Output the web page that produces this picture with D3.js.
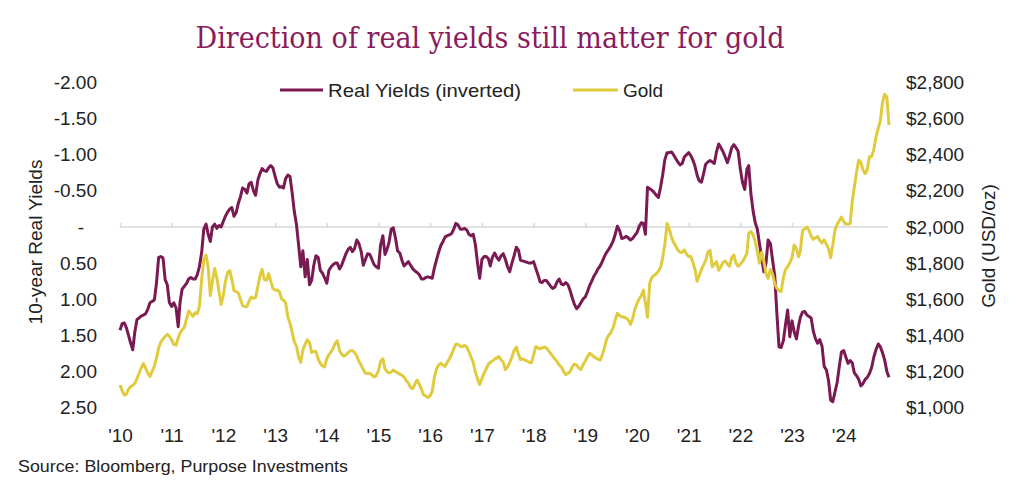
<!DOCTYPE html>
<html>
<head>
<meta charset="utf-8">
<script src="https://cdn.jsdelivr.net/npm/d3@7"></script>
<style>
  html, body { margin: 0; padding: 0; background: #fff; }
  svg { display: block; }
  text { font-family: "Liberation Sans", Arial, sans-serif; }
</style>
</head>
<body>
<svg id="chart" width="1024" height="500"></svg>
<script>
// ---- data: twice a month (1st and 16th), Jan 2010 - Nov 2024 ----
const startYear = 2010;
const realYields = [
  1.43,1.34,1.33,1.40,1.49,1.60,1.70,1.45,1.28,1.26,1.23,1.22,1.20,1.14,1.05,1.03,1.01,0.77,0.42,0.41,0.43,0.73,0.80,1.05,
  1.10,1.05,1.12,1.38,1.05,0.86,0.82,0.78,0.72,0.70,0.72,0.72,0.66,0.55,0.35,0.03,-0.04,0.10,0.20,0.00,-0.04,0.02,-0.02,0.00,
  -0.08,-0.15,-0.21,-0.25,-0.27,-0.15,-0.20,-0.33,-0.42,-0.54,-0.52,-0.47,-0.60,-0.62,-0.50,-0.44,-0.65,-0.74,-0.81,-0.78,-0.77,-0.82,-0.85,-0.82,
  -0.70,-0.60,-0.55,-0.56,-0.54,-0.67,-0.72,-0.70,-0.48,-0.22,-0.03,0.25,0.55,0.33,0.69,0.45,0.80,0.74,0.53,0.40,0.42,0.60,0.64,0.70,
  0.78,0.60,0.55,0.52,0.50,0.50,0.58,0.53,0.45,0.37,0.31,0.28,0.34,0.30,0.18,0.23,0.34,0.53,0.45,0.37,0.38,0.45,0.52,0.55,
  0.57,0.25,0.12,0.38,0.32,0.22,0.03,0.01,0.15,0.33,0.36,0.46,0.54,0.51,0.48,0.53,0.58,0.61,0.63,0.66,0.72,0.72,0.70,0.69,
  0.70,0.71,0.56,0.45,0.35,0.26,0.20,0.14,0.12,0.11,0.09,0.03,-0.05,-0.03,0.03,0.03,0.02,0.04,0.10,0.12,0.10,0.25,0.50,0.71,
  0.45,0.41,0.41,0.44,0.54,0.42,0.36,0.42,0.46,0.40,0.37,0.45,0.55,0.62,0.50,0.40,0.28,0.32,0.46,0.47,0.48,0.49,0.50,0.50,
  0.48,0.57,0.66,0.76,0.77,0.74,0.74,0.78,0.82,0.85,0.83,0.76,0.72,0.79,0.80,0.77,0.80,0.88,0.98,1.07,1.13,1.10,1.05,1.00,
  0.97,0.90,0.81,0.75,0.69,0.64,0.58,0.54,0.48,0.41,0.35,0.31,0.26,0.20,0.10,-0.01,0.05,0.16,0.15,0.13,0.15,0.18,0.16,0.12,
  0.08,0.00,-0.06,-0.05,0.10,-0.55,-0.53,-0.51,-0.48,-0.44,-0.41,-0.55,-0.72,-0.93,-1.03,-1.03,-1.04,-1.00,-0.95,-0.90,-0.86,-0.88,-0.97,-1.00,
  -1.03,-0.99,-0.92,-0.83,-0.72,-0.64,-0.62,-0.74,-0.87,-0.90,-0.92,-0.90,-0.88,-1.04,-1.15,-1.10,-1.04,-0.97,-0.89,-0.98,-1.10,-1.14,-1.10,-1.05,
  -0.80,-0.62,-0.52,-0.80,-0.85,-0.47,-0.22,-0.06,0.03,0.23,0.43,0.62,0.50,0.18,0.23,0.45,0.68,1.20,1.66,1.67,1.57,1.35,1.15,1.52,
  1.30,1.45,1.55,1.37,1.25,1.18,1.17,1.22,1.24,1.26,1.45,1.55,1.61,1.56,1.65,1.93,1.98,2.13,2.40,2.42,2.28,2.15,1.93,1.73,
  1.71,1.80,1.89,1.85,1.88,2.02,2.06,2.11,2.20,2.17,2.11,2.08,2.03,1.95,1.80,1.70,1.62,1.66,1.74,1.84,2.00,2.08
];
const gold = [
  1125,1095,1068,1075,1100,1115,1122,1134,1160,1190,1220,1243,1218,1190,1172,1200,1230,1275,1330,1362,1380,1393,1405,1395,
  1374,1350,1345,1385,1412,1430,1445,1490,1535,1520,1505,1525,1520,1560,1710,1820,1845,1775,1620,1700,1770,1720,1645,1570,
  1620,1700,1748,1758,1710,1648,1642,1634,1600,1565,1558,1560,1590,1612,1605,1610,1670,1730,1765,1710,1705,1742,1700,1660,
  1650,1651,1640,1600,1596,1580,1500,1468,1420,1365,1340,1280,1250,1320,1350,1375,1360,1305,1310,1310,1270,1245,1230,1225,
  1270,1292,1310,1330,1355,1370,1315,1295,1285,1290,1305,1315,1315,1305,1285,1255,1235,1210,1189,1190,1190,1180,1170,1175,
  1205,1255,1270,1215,1200,1192,1195,1208,1200,1192,1185,1178,1168,1150,1135,1110,1105,1130,1152,1130,1100,1070,1065,1055,
  1065,1090,1170,1215,1235,1245,1235,1228,1250,1270,1295,1325,1350,1350,1340,1337,1345,1335,1310,1280,1250,1195,1160,1128,
  1160,1190,1215,1240,1250,1258,1268,1275,1282,1265,1250,1210,1225,1248,1280,1315,1335,1295,1265,1270,1262,1258,1250,1247,
  1290,1337,1330,1325,1330,1335,1330,1315,1300,1285,1268,1255,1235,1225,1200,1182,1190,1198,1225,1240,1235,1220,1210,1235,
  1258,1280,1300,1292,1282,1275,1268,1263,1290,1330,1380,1400,1415,1440,1485,1522,1510,1503,1500,1496,1485,1460,1490,1540,
  1575,1600,1620,1650,1580,1500,1690,1720,1732,1740,1755,1775,1830,1900,2020,1990,1945,1915,1895,1873,1860,1860,1873,1850,
  1836,1836,1800,1760,1700,1730,1765,1790,1815,1860,1870,1780,1795,1808,1760,1780,1805,1812,1795,1782,1830,1845,1800,1782,
  1795,1808,1830,1854,1965,1975,1955,1920,1860,1800,1860,1810,1740,1715,1765,1740,1685,1660,1648,1642,1720,1765,1780,1800,
  1830,1900,1880,1835,1870,1980,1990,2000,1980,1950,1932,1940,1947,1925,1912,1928,1905,1880,1830,1900,1985,2015,2035,2055,
  2030,2018,2015,2020,2140,2220,2305,2370,2360,2316,2295,2320,2389,2390,2430,2500,2545,2590,2690,2735,2720,2565
];
const yieldTicks = [-2, -1.5, -1, -0.5, 0, 0.5, 1, 1.5, 2, 2.5];
const goldTicks = [1000, 1200, 1400, 1600, 1800, 2000, 2200, 2400, 2600, 2800];
const yearLabels = ["'10","'11","'12","'13","'14","'15","'16","'17","'18","'19","'20","'21","'22","'23","'24"];

const titleText = "Direction of real yields still matter for gold";
const sourceText = "Source: Bloomberg, Purpose Investments";

// ---- chart ----
const svg = d3.select("#chart");
const dates = realYields.map((v, i) => new Date(Date.UTC(startYear, Math.floor(i / 2), i % 2 ? 16 : 1)));
const years = yearLabels.map((l, i) => new Date(Date.UTC(startYear + i, 0, 1)));

const x = d3.scaleUtc()
  .domain([new Date(Date.UTC(2010, 0, 1)), new Date(Date.UTC(2025, 0, 1))])
  .range([120, 895.5]);
const yL = d3.scaleLinear().domain([-2, 2.5]).range([82.6, 407.5]);
const yR = d3.scaleLinear().domain([2800, 1000]).range([82.6, 407.5]);

const purple = "#7a1a53";
const yellow = "#e0cb3f";

// title
svg.append("text")
  .attr("x", 490).attr("y", 48)
  .attr("text-anchor", "middle")
  .attr("textLength", 589).attr("lengthAdjust", "spacingAndGlyphs")
  .style("font-family", "'DejaVu Serif', 'Liberation Serif', Georgia, serif")
  .style("font-size", "30px")
  .attr("fill", "#8a1c5e")
  .text(titleText);

// legend
const leg = svg.append("g");
leg.append("line").attr("x1", 280).attr("x2", 323).attr("y1", 90).attr("y2", 90)
  .attr("stroke", purple).attr("stroke-width", 3);
leg.append("text").attr("x", 328).attr("y", 97).style("font-size", "19px").attr("fill", "#222")
  .attr("textLength", 193).attr("lengthAdjust", "spacingAndGlyphs")
  .text("Real Yields (inverted)");
leg.append("line").attr("x1", 573).attr("x2", 618).attr("y1", 90).attr("y2", 90)
  .attr("stroke", yellow).attr("stroke-width", 3);
leg.append("text").attr("x", 623).attr("y", 97).style("font-size", "19px").attr("fill", "#222")
  .text("Gold");

// zero line + year ticks
const y0 = yL(0);
svg.append("line").attr("x1", 120).attr("x2", 888).attr("y1", y0).attr("y2", y0)
  .attr("stroke", "#d9d9d9").attr("stroke-width", 1.5);
const tickAxis = svg.append("g").attr("transform", `translate(0,${y0})`)
  .call(d3.axisTop(x).tickValues(years).tickSize(4).tickFormat(""));
tickAxis.select(".domain").remove();
tickAxis.selectAll("line").attr("stroke", "#d9d9d9").attr("stroke-width", 1.5);

// left axis
const axL = svg.append("g").attr("transform", "translate(97,0)")
  .call(d3.axisLeft(yL).tickValues(yieldTicks).tickSize(0).tickPadding(0)
    .tickFormat(v => v === 0 ? "-" : v.toFixed(2)));
axL.select(".domain").remove();
axL.selectAll("text")
  .attr("text-anchor", "end")
  .attr("x", d => d === 0 ? -13 : 0)
  .style("font-size", "19px").style("font-family", "'Liberation Sans', Arial, sans-serif").attr("fill", "#222");

// right axis
const axR = svg.append("g").attr("transform", "translate(906,0)")
  .call(d3.axisRight(yR).tickValues(goldTicks).tickSize(0).tickPadding(0)
    .tickFormat(v => "$" + d3.format(",")(v)));
axR.select(".domain").remove();
axR.selectAll("text")
  .attr("text-anchor", "start").attr("x", 0)
  .style("font-size", "19px").style("font-family", "'Liberation Sans', Arial, sans-serif").attr("fill", "#222");

// x labels
const axX = svg.append("g").attr("transform", "translate(0,428)")
  .call(d3.axisBottom(x).tickValues(years).tickSize(0).tickPadding(0)
    .tickFormat((d, i) => yearLabels[i]));
axX.select(".domain").remove();
axX.selectAll("text").style("font-size", "19px")
  .style("font-family", "'Liberation Sans Narrow', 'Liberation Sans', Arial, sans-serif")
  .attr("fill", "#222");

// axis titles
svg.append("text")
  .attr("transform", "translate(42,242) rotate(-90)")
  .attr("text-anchor", "middle").style("font-size", "19px").attr("fill", "#222")
  .text("10-year Real Yields");
svg.append("text")
  .attr("transform", "translate(995,246) rotate(-90)")
  .attr("text-anchor", "middle").style("font-size", "19px").attr("fill", "#222")
  .text("Gold (USD/oz)");

// lines
const lineY = d3.line().x((d, i) => x(dates[i])).y(d => yL(d));
const lineG = d3.line().x((d, i) => x(dates[i])).y(d => yR(d));
svg.append("path").datum(realYields).attr("d", lineY)
  .attr("fill", "none").attr("stroke", purple).attr("stroke-width", 3)
  .attr("stroke-linejoin", "round");
svg.append("path").datum(gold).attr("d", lineG)
  .attr("fill", "none").attr("stroke", yellow).attr("stroke-width", 3)
  .attr("stroke-linejoin", "round");

// source
svg.append("text").attr("x", 18).attr("y", 472)
  .style("font-size", "17px")
  .style("font-family", "'Liberation Sans Narrow', 'Liberation Sans', Arial, sans-serif")
  .attr("fill", "#222")
  .attr("textLength", 330).attr("lengthAdjust", "spacingAndGlyphs")
  .text(sourceText);
</script>
</body>
</html>
